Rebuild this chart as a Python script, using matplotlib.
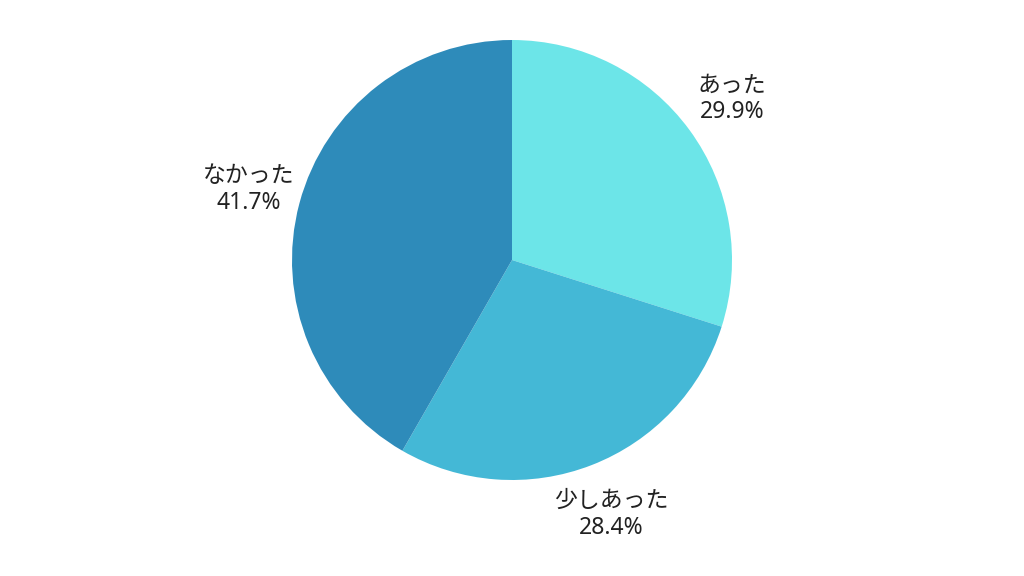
import matplotlib
matplotlib.use('Agg')
import matplotlib.pyplot as plt

# Data
labels = ['あった', '少しあった', 'なかった']
values = [29.9, 28.4, 41.7]
colors = ['#6ce5e8', '#44b8d6', '#2e8bba']

plt.rcParams['font.family'] = ['Noto Sans', 'Noto Sans CJK JP', 'DejaVu Sans']

fig = plt.figure(figsize=(10.24, 5.76), dpi=100)
ax = fig.add_axes([(512 - 220) / 1024, (576 - 260 - 220) / 576, 440 / 1024, 440 / 576])

texts = [f'{l}\n{v:.1f}%' for l, v in zip(labels, values)]
wedges, label_texts = ax.pie(values,
                             labels=texts,
                             colors=colors,
                             startangle=90,
                             counterclock=False,
                             labeldistance=1.24,
                             radius=1,
                             textprops=dict(fontsize=16.5, color='#222222', linespacing=1.15))
for t in label_texts:
    t.set_ha('center')
    t.set_va('center')

ax.set_xlim(-1, 1)
ax.set_ylim(-1, 1)
ax.set_aspect('equal')
ax.axis('off')

fig.savefig('out.png', dpi=100)
